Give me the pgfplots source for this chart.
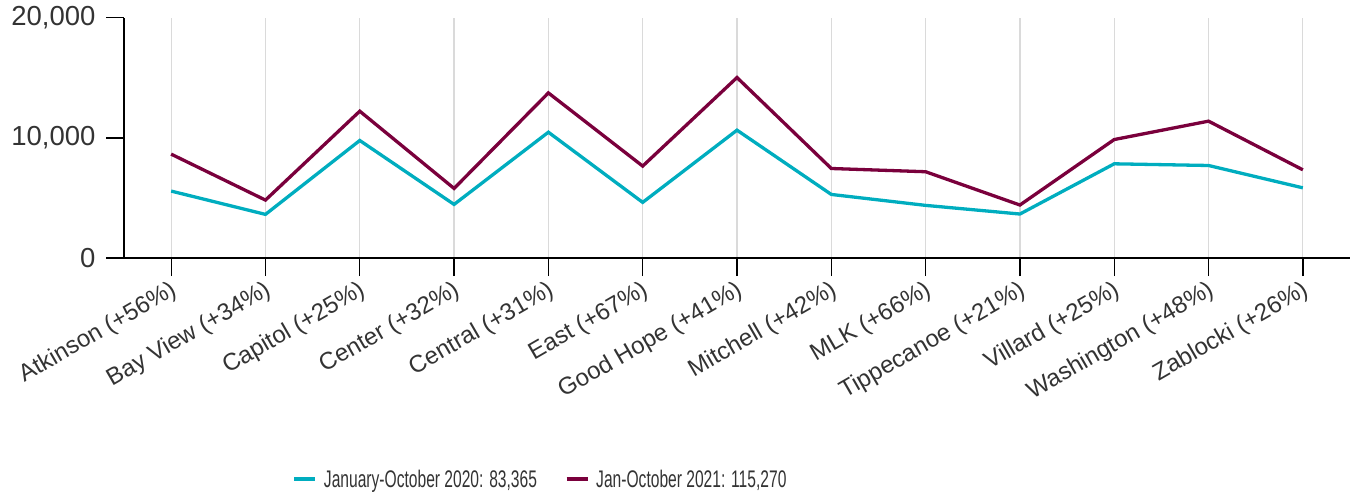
\documentclass[border=0pt]{standalone}
\usepackage{fontspec}
\setmainfont{Liberation Sans}
\usepackage{graphicx}
\usepackage{pgfplots}
\pgfplotsset{compat=1.18}
\definecolor{cyanline}{HTML}{00ADBF}
\definecolor{maroonline}{HTML}{7A003C}
\definecolor{txt}{HTML}{333333}
\definecolor{gridc}{HTML}{DADADA}
\begin{document}
\begin{tikzpicture}
\path[use as bounding box] (-124pt,-238pt) rectangle (1235pt,258pt);
\begin{axis}[
  at={(0pt,0pt)}, anchor=south west,
  scale only axis, width=1226pt, height=240.3pt,
  xmin=-0.5, xmax=12.5, ymin=0, ymax=20000,
  axis x line*=bottom, axis y line*=left,
  x axis line style={-}, y axis line style={-},
  axis line style={line width=1.3pt, black},
  tick style={line width=1.3pt, black},
  tick align=outside, major tick length=18pt,
  xtick={0,...,12},
  xticklabels={Atkinson (+56\%), Bay View (+34\%), Capitol (+25\%), Center (+32\%), Central (+31\%), East (+67\%), Good Hope (+41\%), Mitchell (+42\%), MLK (+66\%), Tippecanoe (+21\%), Villard (+25\%), Washington (+48\%), Zablocki (+26\%)},
  ytick={0,10000,20000},
  scaled y ticks=false,
  /pgf/number format/1000 sep={,},
  /pgf/number format/assume math mode=true,
  xmajorgrids, grid style={gridc, line width=1.2pt},
  ticklabel style={color=txt},
  yticklabel style={font=\fontsize{27.5}{33}\selectfont, xshift=-7pt},
  xticklabel style={font=\fontsize{24}{28}\selectfont, rotate=30, anchor=north east, yshift=2pt},
  legend columns=2,
  legend style={at={(0.339,-0.92)}, anchor=center, draw=none, fill=none,
    font=\fontsize{24}{28}\selectfont, text=txt, inner sep=0pt,
    nodes={inner sep=0pt},
    /tikz/every odd column/.append style={column sep=7pt},
    /tikz/every even column/.append style={column sep=28pt}},
  legend image code/.code={\draw[#1, line width=3.2pt] (0pt,0pt) -- (21pt,0pt);},
]
\addplot[cyanline, line width=3.3pt, mark=none] coordinates {
(0,5570) (1,3630) (2,9780) (3,4460) (4,10470) (5,4630) (6,10640) (7,5290) (8,4380) (9,3660) (10,7840) (11,7700) (12,5840)};
\addlegendentry{\scalebox{0.65}[1]{January-October 2020: 83,365}}
\addplot[maroonline, line width=3.3pt, mark=none] coordinates {
(0,8645) (1,4820) (2,12220) (3,5790) (4,13740) (5,7650) (6,15020) (7,7450) (8,7180) (9,4410) (10,9860) (11,11390) (12,7340)};
\addlegendentry{\scalebox{0.65}[1]{Jan-October 2021: 115,270}}
\end{axis}
\end{tikzpicture}
\end{document}
